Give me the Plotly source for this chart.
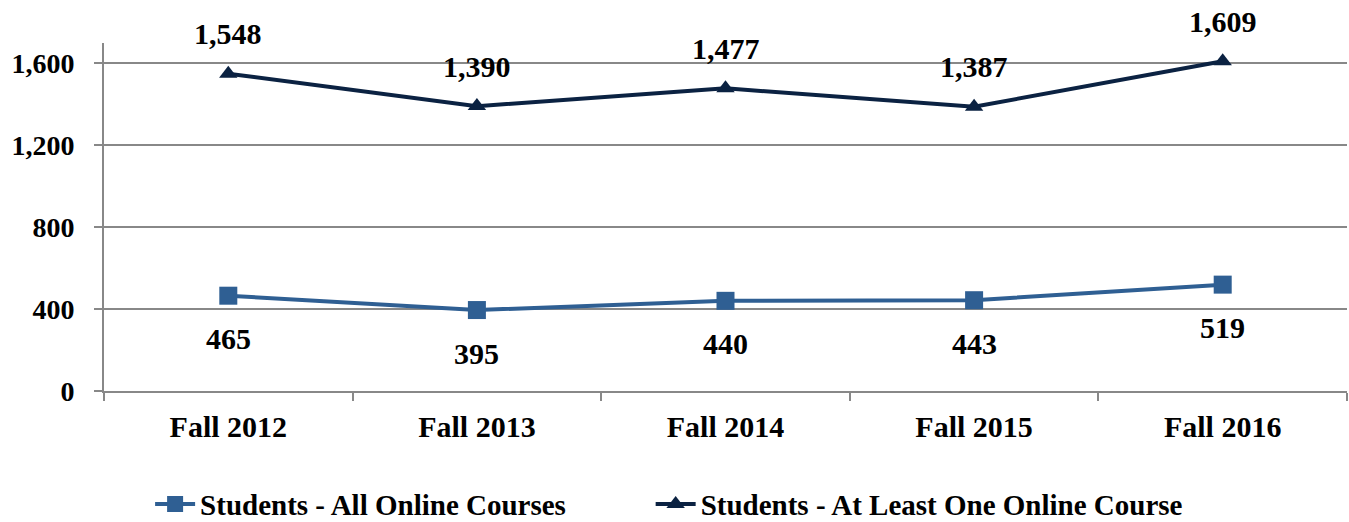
import plotly.graph_objects as go

# chart data
terms = ["Fall 2012", "Fall 2013", "Fall 2014", "Fall 2015", "Fall 2016"]
all_online = [465, 395, 440, 443, 519]
at_least_one = [1548, 1390, 1477, 1387, 1609]
y_ticks = [0, 400, 800, 1200, 1600]

font_family = "Liberation Serif"
navy = "#0b2242"
blue = "#2f5f93"
grid = "#888888"

fig = go.Figure()

fig.add_trace(go.Scatter(
    x=terms, y=all_online, mode="lines+markers",
    name="<b>Students - All Online Courses</b>" + "\u00a0" * 11,
    line=dict(color=blue, width=4),
    marker=dict(symbol="square", size=18, color=blue),
))
fig.add_trace(go.Scatter(
    x=terms, y=at_least_one, mode="lines+markers",
    name="<b>Students - At Least One Online Course</b>",
    line=dict(color=navy, width=4),
    marker=dict(symbol="triangle-up", size=16, color=navy),
))

# data labels
for t, v in zip(terms, at_least_one):
    fig.add_annotation(x=t, y=v, text=f"<b>{v:,}</b>", showarrow=False,
                       yshift=40, font=dict(size=30, color="black", family=font_family))
for t, v in zip(terms, all_online):
    fig.add_annotation(x=t, y=v, text=f"<b>{v:,}</b>", showarrow=False,
                       yshift=-43, font=dict(size=30, color="black", family=font_family))

fig.update_layout(
    width=1349, height=522,
    margin=dict(l=104, r=2, t=43, b=131, autoexpand=False),
    plot_bgcolor="white", paper_bgcolor="white",
    font=dict(family=font_family, color="black", size=28),
    legend=dict(
        orientation="h", xref="container", yref="paper",
        x=0.496, xanchor="center", y=-0.325, yanchor="middle",
        font=dict(size=29), itemwidth=40, tracegroupgap=0,
        bgcolor="rgba(0,0,0,0)",
    ),
)

fig.update_xaxes(
    type="category", range=[-0.5, 4.5], tickson="boundaries", ticks="outside", ticklen=8,
    tickwidth=2, tickcolor=grid, showline=True, linecolor=grid, linewidth=2,
    showgrid=False, ticklabelstandoff=8,
    tickfont=dict(size=30, family=font_family),
    tickvals=terms, ticktext=[f"<b>{t}</b>" for t in terms],
)
fig.update_yaxes(
    range=[0, 1698], tickvals=y_ticks, ticktext=[f"<b>{v:,}</b>" for v in y_ticks],
    ticks="outside", ticklen=8, tickwidth=2, tickcolor=grid,
    showline=True, linecolor=grid, linewidth=2,
    showgrid=True, gridcolor=grid, gridwidth=2, zeroline=False,
    ticklabelstandoff=14, tickfont=dict(size=28, family=font_family),
)

fig.write_html(
    "out.html",
    config={"displayModeBar": False},
    post_script="document.body.style.margin='0';document.body.style.overflow='hidden';",
)
